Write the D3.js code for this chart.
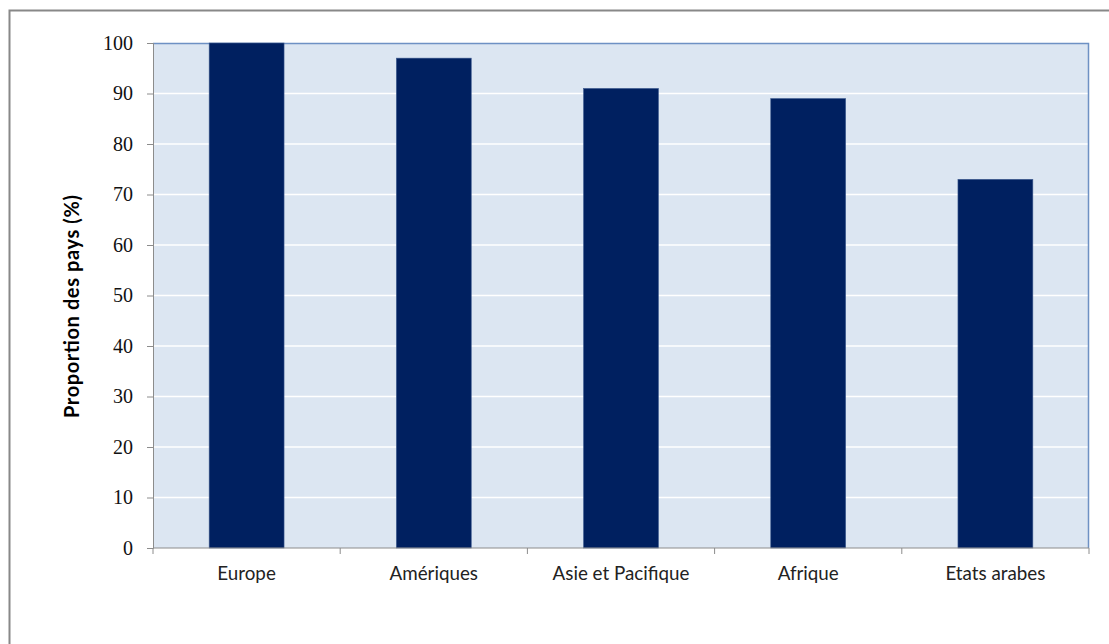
<!DOCTYPE html>
<html><head><meta charset="utf-8">
<script src="https://cdn.jsdelivr.net/npm/d3@7"></script>
<style>body{margin:0;background:#fff}svg{display:block}</style>
</head><body>
<script>
const categories = ["Europe", "Amériques", "Asie et Pacifique", "Afrique", "Etats arabes"];
const values = [100, 97, 91, 89, 73];
const yTicks = [0, 10, 20, 30, 40, 50, 60, 70, 80, 90, 100];
const yTitle = "Proportion des pays (%)";

const W = 1109, H = 644;
const m = {left:153, top:43, right:1089, bottom:548};
const svg = d3.select("body").append("svg").attr("width", W).attr("height", H);

// outer frame
svg.append("rect").attr("x", 9.5).attr("y", 10.5).attr("width", W + 20).attr("height", H + 20)
  .attr("fill", "#fff").attr("stroke", "#888").attr("stroke-width", 2);

const x = d3.scaleBand().domain(categories).range([m.left, m.right]).paddingInner(0.6).paddingOuter(0.3);
const y = d3.scaleLinear().domain([0, 100]).range([m.bottom, m.top]);

svg.append("rect").attr("x", m.left).attr("y", m.top).attr("width", m.right - m.left).attr("height", m.bottom - m.top)
  .attr("fill", "#dce6f2");

// gridlines
svg.append("g").selectAll("line").data(yTicks.filter(d => d > 0 && d < 100)).join("line")
  .attr("x1", m.left).attr("x2", m.right).attr("y1", d => y(d)).attr("y2", d => y(d))
  .attr("stroke", "#fff").attr("stroke-width", 1.5);

// plot border top/right
svg.append("path").attr("d", `M${m.left},${m.top+0.5}H${m.right-0.5}V${m.bottom}`)
  .attr("fill", "none").attr("stroke", "#6e91c4").attr("stroke-width", 1.5);

// bars
svg.append("g").selectAll("rect").data(values).join("rect")
  .attr("x", (d, i) => x(categories[i])).attr("width", x.bandwidth())
  .attr("y", d => y(d)).attr("height", d => y(0) - y(d))
  .attr("fill", "#002060").attr("stroke", "#3d5a8f").attr("stroke-width", 0.6);

// y axis
const yAxis = d3.axisLeft(y).tickValues(yTicks).tickSize(6).tickPadding(14);
const gy = svg.append("g").attr("transform", `translate(${m.left},0)`).call(yAxis);
gy.select(".domain").attr("stroke", "#8c8c8c");
gy.selectAll(".tick line").attr("stroke", "#8c8c8c");
gy.selectAll("text").attr("font-family", "'Liberation Serif', serif").attr("font-size", 20).attr("fill", "#111");

// x axis
const gx = svg.append("g").attr("transform", `translate(0,${m.bottom})`);
gx.append("line").attr("x1", m.left).attr("x2", m.right).attr("stroke", "#8c8c8c");
const bounds = d3.range(categories.length + 1).map(i => m.left + i * (m.right - m.left) / categories.length);
gx.selectAll("line.t").data(bounds).join("line").attr("class", "t")
  .attr("x1", d => d).attr("x2", d => d).attr("y1", 0).attr("y2", 6).attr("stroke", "#8c8c8c");
gx.selectAll("text").data(categories).join("text")
  .attr("x", d => x(d) + x.bandwidth() / 2).attr("y", 32)
  .attr("text-anchor", "middle").attr("font-family", "Lato, sans-serif").attr("font-size", 18.8).attr("fill", "#222")
  .text(d => d);

// y title
svg.append("text").attr("transform", `translate(79,306.5) rotate(-90)`)
  .attr("text-anchor", "middle").attr("font-family", "Lato, sans-serif").attr("font-weight", "bold")
  .attr("font-size", 20).attr("textLength", 223).attr("lengthAdjust", "spacing")
  .attr("fill", "#000").text(yTitle);
</script>
</body></html>
